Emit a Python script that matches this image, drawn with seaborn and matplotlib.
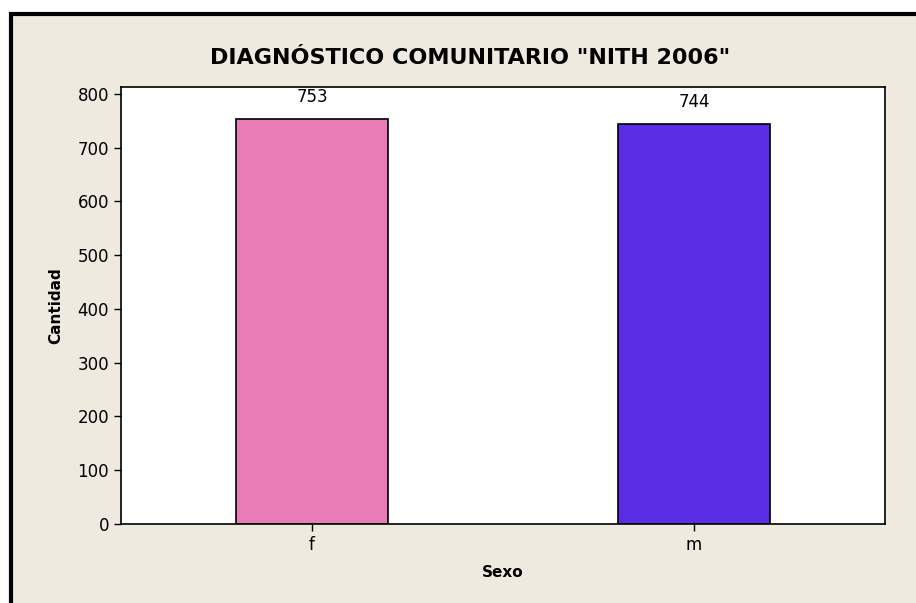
import matplotlib
matplotlib.use("Agg")
import matplotlib.pyplot as plt
import seaborn as sns
import pandas as pd
from matplotlib.patches import Rectangle

categories = ["f", "m"]
values = [753, 744]
colors = ["#E87DB8", "#5B2EE6"]

df = pd.DataFrame({"Sexo": categories, "Cantidad": values})

sns.set_style("white")
plt.rcParams['font.family'] = ['DejaVu Sans']
plt.rcParams['text.color'] = 'black'
plt.rcParams['axes.labelcolor'] = 'black'

fig = plt.figure(figsize=(9.16, 6.03), dpi=100, facecolor="white")
# outer frame
frame = Rectangle((11/916, -0.2), 1.2, 1.2 - 14/603, transform=fig.transFigure,
                  facecolor="#EEEAE0", edgecolor="black", linewidth=3, zorder=-10)
fig.add_artist(frame)
ax = fig.add_axes([121/916, 1 - 524/603, (885-121)/916, (524-87)/603])
ax.set_zorder(1)
ax.set_facecolor("white")

sns.barplot(data=df, x="Sexo", y="Cantidad", hue="Sexo", palette=colors, width=0.4,
            edgecolor="black", linewidth=1.2, ax=ax, legend=False, saturation=1)

for i, v in enumerate(values):
    ax.text(i, v + 24, str(v), ha="center", va="bottom", fontsize=12, color="black")

ax.set_xlim(-0.5, 1.5)
ax.set_ylim(0, 813)
ax.set_yticks([0, 100, 200, 300, 400, 500, 600, 700, 800])
for s in ax.spines.values():
    s.set_visible(True)
    s.set_color("black")
    s.set_linewidth(1.2)
ax.tick_params(axis="both", direction="out", length=5, width=1, colors="black", labelsize=12,
               left=True, bottom=True)
ax.set_xlabel("Sexo", fontsize=11, fontweight="bold", labelpad=8, color="black")
ax.set_ylabel("Cantidad", fontsize=11, fontweight="bold", labelpad=10, color="black")
fig.text(470/916, 1 - 58/603, 'DIAGNÓSTICO COMUNITARIO "NITH 2006"', ha="center", va="center",
         fontsize=16, fontweight="bold", color="black")

fig.savefig("out.png", dpi=100, facecolor=fig.get_facecolor())
